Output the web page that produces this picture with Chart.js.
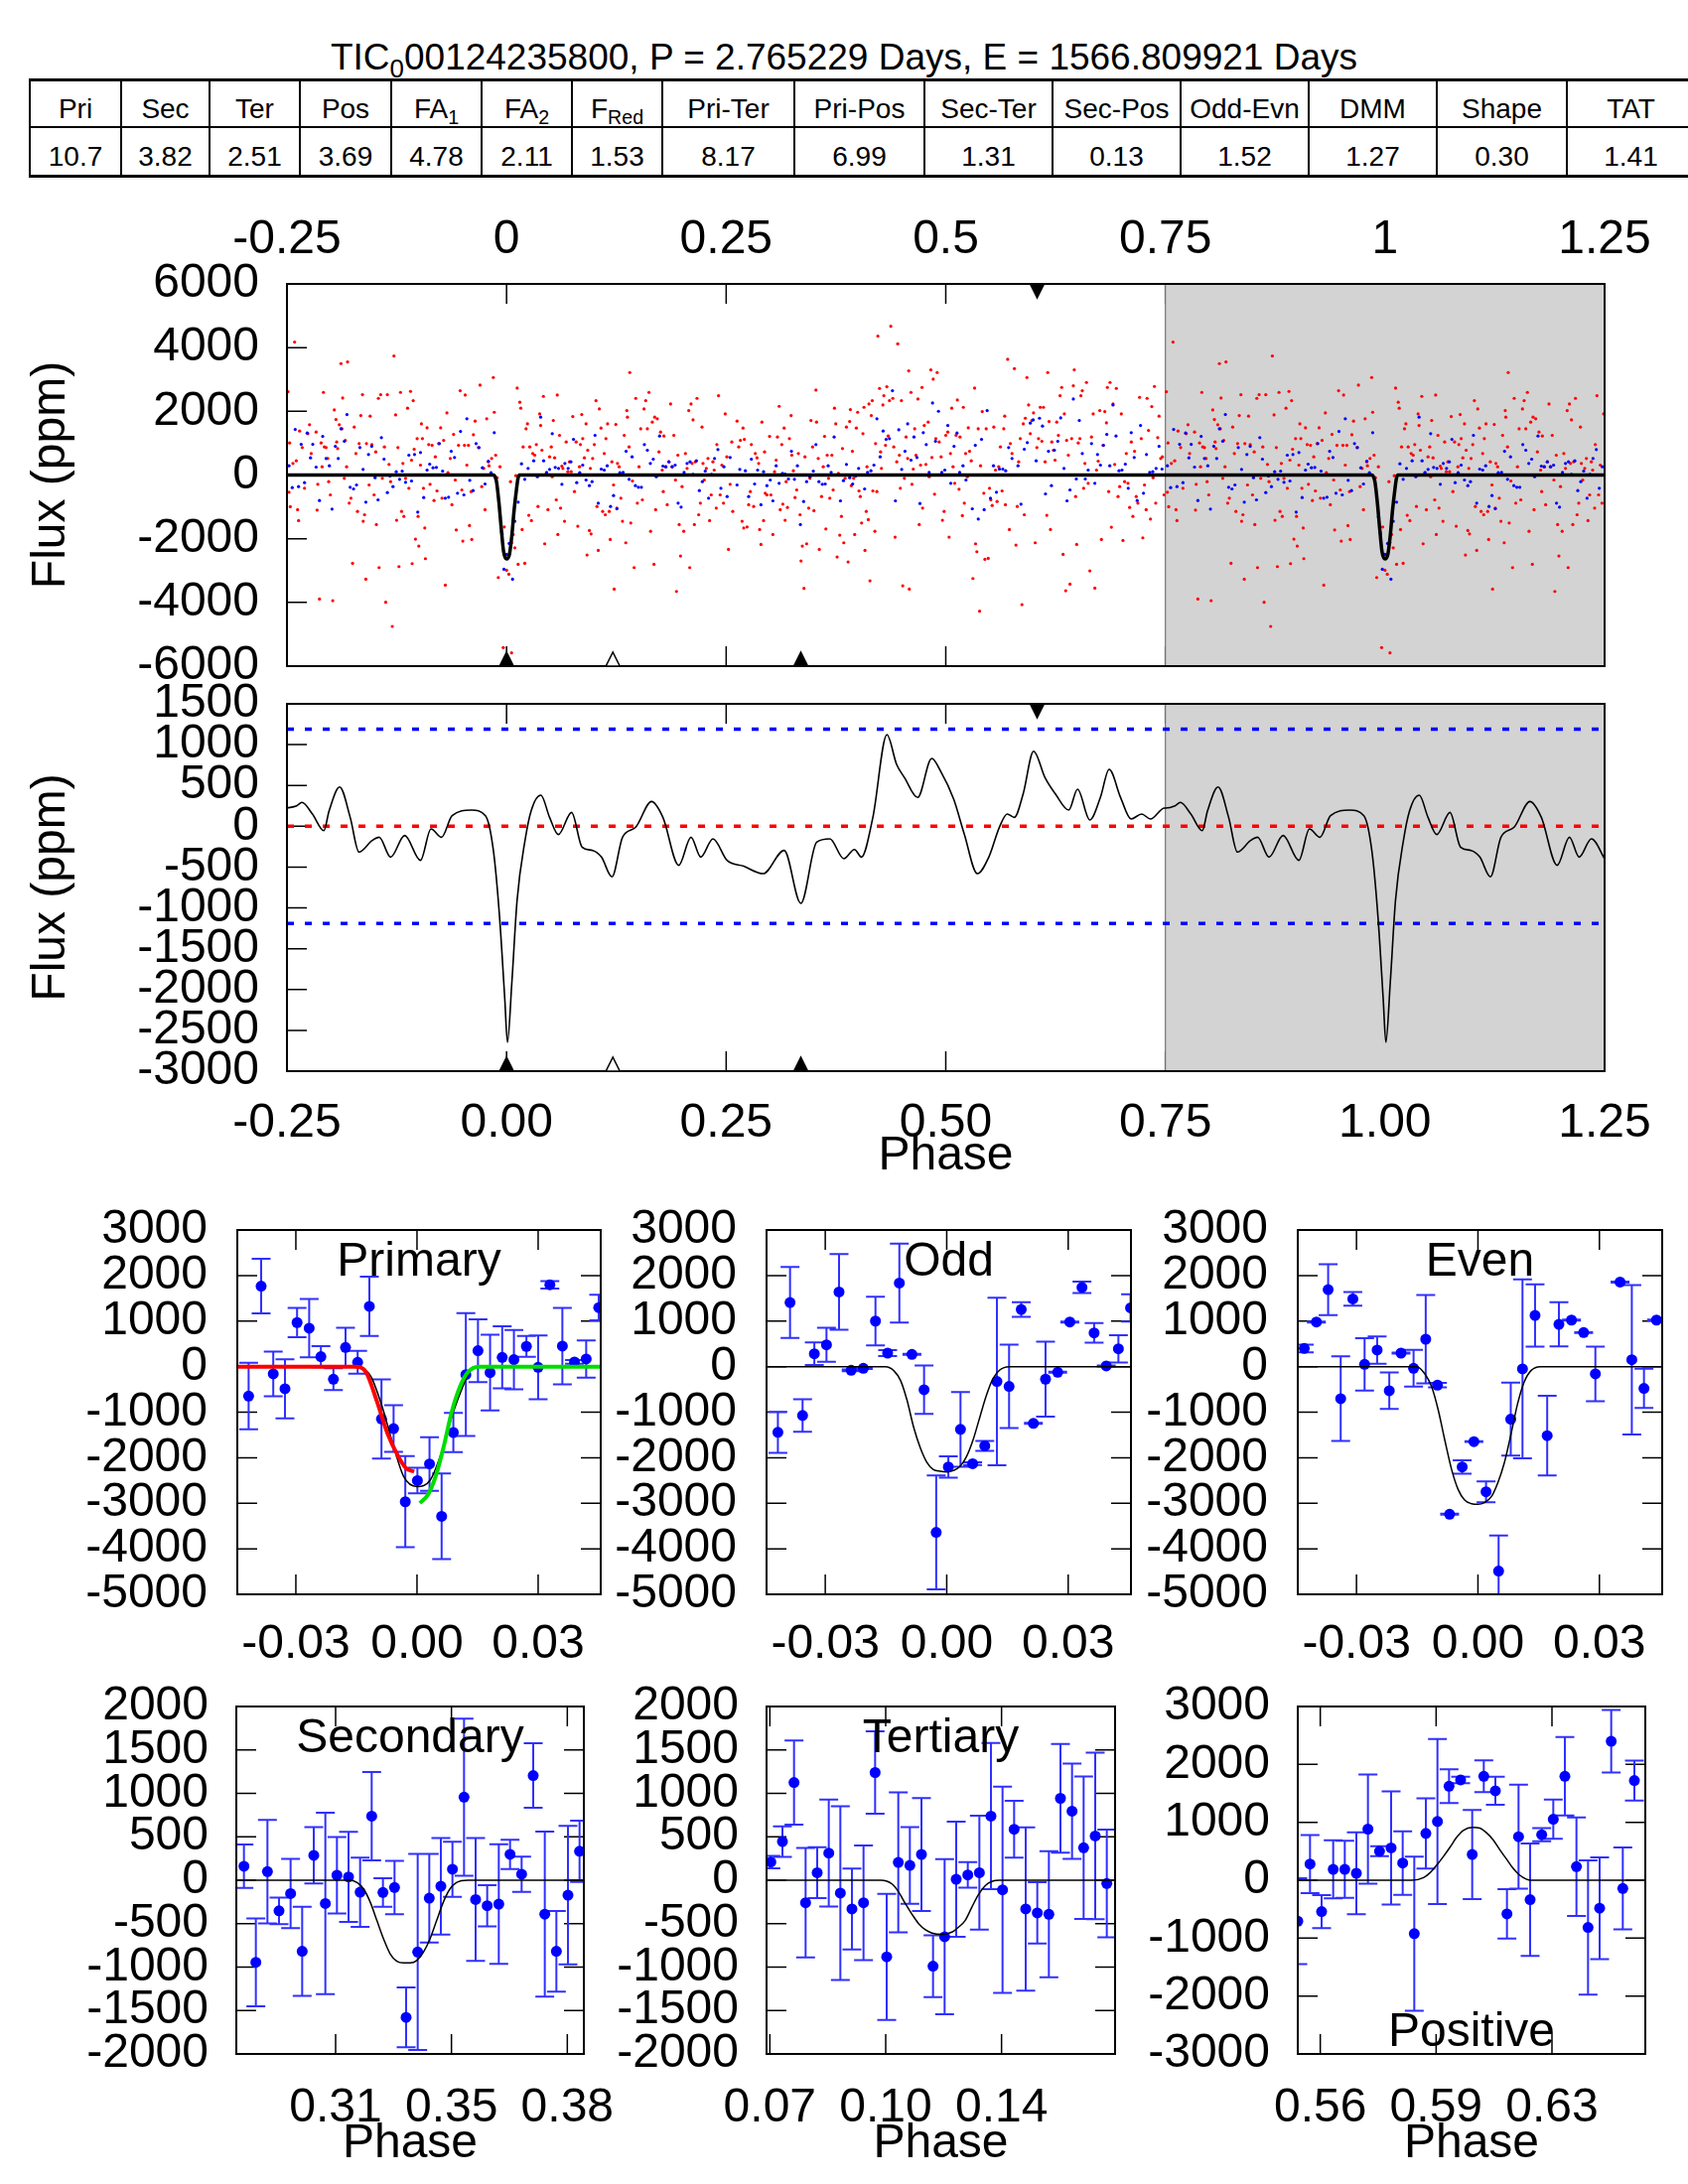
<!DOCTYPE html>
<html><head><meta charset="utf-8">
<script src="https://cdn.jsdelivr.net/npm/chart.js@4.4.1/dist/chart.umd.min.js"></script>
<style>
html,body{margin:0;padding:0;background:#fff;}
#page{position:relative;width:1700px;height:2200px;overflow:hidden;font-family:'Liberation Sans',Arial,Helvetica,sans-serif;color:#000;}
#page canvas{position:absolute;}
#title{position:absolute;left:0;top:36px;width:1700px;text-align:center;font-size:37px;line-height:44px;white-space:nowrap;}
#title sub,#stats sub{font-size:0.7em;vertical-align:-0.3em;line-height:0;}
#stats{position:absolute;left:29px;top:79px;width:1647px;border-collapse:collapse;table-layout:fixed;font-size:28px;text-align:center;}
#stats td{border-left:2px solid #000;border-right:2px solid #000;padding:0;line-height:32px;}
#stats tr.h td{height:35px;padding-top:10px;border-top:3px solid #000;border-bottom:2px solid #000;}
#stats tr.v td{height:37px;padding-top:10px;border-bottom:3px solid #000;}
</style></head>
<body><div id="page">
<div id="title"></div>
<table id="stats"><tbody><tr class="h"></tr><tr class="v"></tr></tbody></table>
</div>
<script>
// ---------------- DATA ----------------
const ticName = "TIC<sub>0</sub>00124235800";
const periodDays = "2.765229";
const epochDays = "1566.809921";
const tableHeaders = ["Pri","Sec","Ter","Pos","FA<sub>1</sub>","FA<sub>2</sub>","F<sub>Red</sub>","Pri-Ter","Pri-Pos","Sec-Ter","Sec-Pos","Odd-Evn","DMM","Shape","TAT"];
const tableValues = ["10.7","3.82","2.51","3.69","4.78","2.11","1.53","8.17","6.99","1.31","0.13","1.52","1.27","0.30","1.41"];

const phaseTicks = [-0.25,0,0.25,0.5,0.75,1,1.25];
const phaseLabelsTop = ["-0.25","0","0.25","0.5","0.75","1","1.25"];
const phaseLabelsBottom = ["-0.25","0.00","0.25","0.50","0.75","1.00","1.25"];

const markerPrimary = 0, markerTertiary = 0.121, markerSecondary = 0.335, markerPositive = 0.604;
const upperThreshold = 1190, lowerThreshold = -1190;

// unbinned (red) folded flux
const redPhase = [
-0.2413,-0.2489,-0.2470,-0.2432,-0.2477,-0.2462,-0.2368,-0.2379,-0.2394,-0.2356,
-0.2326,-0.2300,-0.2262,-0.2243,-0.2224,-0.2213,-0.2168,-0.2157,-0.2149,-0.2130,
-0.2111,-0.2100,-0.2085,-0.2074,-0.2055,-0.2036,-0.2025,-0.2006,-0.1979,-0.1961,
-0.1942,-0.1934,-0.1923,-0.1904,-0.1885,-0.1874,-0.1866,-0.1847,-0.1836,-0.1821,
-0.1810,-0.1791,-0.1772,-0.1753,-0.1734,-0.1715,-0.1697,-0.1678,-0.1659,-0.1640,
-0.1632,-0.1617,-0.1602,-0.1595,-0.1565,-0.1553,-0.1534,-0.1508,-0.1489,-0.1482,
-0.1459,-0.1451,-0.1433,-0.1414,-0.1391,-0.1376,-0.1357,-0.1338,-0.1320,-0.1301,
-0.1282,-0.1263,-0.1252,-0.1237,-0.1225,-0.1207,-0.1195,-0.1180,-0.1169,-0.1150,
-0.1127,-0.1112,-0.1093,-0.1082,-0.1075,-0.1063,-0.1052,-0.1037,-0.1018,-0.1007,
-0.0999,-0.0980,-0.0969,-0.0958,-0.0946,-0.0931,-0.0924,-0.0905,-0.0886,-0.0871,
-0.0848,-0.0826,-0.0811,-0.0792,-0.0773,-0.0750,-0.0735,-0.0716,-0.0697,-0.0679,
-0.0667,-0.0641,-0.0622,-0.0603,-0.0584,-0.0573,-0.0547,-0.0528,-0.0509,-0.0498,
-0.0479,-0.0471,-0.0452,-0.0434,-0.0422,-0.0403,-0.0396,-0.0377,-0.0358,-0.0339,
-0.0320,-0.0302,-0.0283,-0.0260,-0.0245,-0.0226,-0.0207,-0.0200,-0.0170,-0.0151,
-0.0140,-0.0124,-0.0109,-0.0094,-0.0075,-0.0049,-0.0026,0.0000,0.0026,0.0045,
0.0057,0.0075,0.0094,0.0106,0.0121,0.0132,0.0151,0.0162,0.0177,0.0189,
0.0207,0.0222,0.0238,0.0253,0.0264,0.0283,0.0298,0.0321,0.0339,0.0358,
0.0377,0.0388,0.0403,0.0419,0.0434,0.0452,0.0471,0.0490,0.0509,0.0520,
0.0532,0.0547,0.0566,0.0577,0.0584,0.0603,0.0615,0.0630,0.0641,0.0660,
0.0679,0.0698,0.0716,0.0735,0.0754,0.0773,0.0792,0.0811,0.0830,0.0841,
0.0856,0.0867,0.0886,0.0905,0.0916,0.0924,0.0943,0.0954,0.0962,0.0980,
0.0999,0.1018,0.1029,0.1044,0.1056,0.1075,0.1094,0.1112,0.1124,0.1131,
0.1150,0.1169,0.1180,0.1199,0.1218,0.1225,0.1244,0.1256,0.1263,0.1282,
0.1301,0.1320,0.1339,0.1357,0.1369,0.1376,0.1395,0.1403,0.1414,0.1433,
0.1452,0.1471,0.1489,0.1508,0.1527,0.1546,0.1565,0.1584,0.1603,0.1621,
0.1640,0.1659,0.1678,0.1686,0.1697,0.1716,0.1735,0.1753,0.1772,0.1784,
0.1791,0.1810,0.1829,0.1848,0.1867,0.1885,0.1904,0.1923,0.1934,0.1950,
0.1965,0.1980,0.1998,0.2017,0.2036,0.2055,0.2074,0.2085,0.2100,0.2112,
0.2123,0.2138,0.2149,0.2168,0.2187,0.2206,0.2225,0.2236,0.2251,0.2274,
0.2293,0.2311,0.2330,0.2349,0.2364,0.2387,0.2394,0.2413,0.2432,0.2451,
0.2470,0.2489,0.2508,0.2526,0.2545,0.2564,0.2575,-0.0038,0.0057,
0.2624,0.2643,0.2662,0.2692,0.2707,0.2681,0.2700,0.2738,0.2756,0.2775,
0.2787,0.2813,0.2832,0.2851,0.2870,0.2881,0.2896,0.2907,0.2926,0.2937,
0.2945,0.2964,0.2994,0.3009,0.3032,0.3051,0.3069,0.3084,0.3103,0.3115,
0.3133,0.3145,0.3160,0.3171,0.3183,0.3198,0.3220,0.3239,0.3247,0.3265,
0.3284,0.3303,0.3322,0.3341,0.3352,0.3367,0.3386,0.3397,0.3416,0.3439,
0.3454,0.3465,0.3484,0.3499,0.3522,0.3529,0.3548,0.3560,0.3586,0.3605,
0.3620,0.3635,0.3650,0.3665,0.3680,0.3703,0.3718,0.3733,0.3748,0.3763,
0.3778,0.3793,0.3812,0.3824,0.3839,0.3854,0.3869,0.3888,0.3906,0.3914,
0.3925,0.3937,0.3952,0.3963,0.3982,0.3997,0.4012,0.4027,0.4042,0.4057,
0.4069,0.4080,0.4095,0.4103,0.4118,0.4125,0.4137,0.4152,0.4163,0.4170,
0.4193,0.4201,0.4216,0.4227,0.4246,0.4258,0.4268,0.4284,0.4295,0.4314,
0.4329,0.4344,0.4359,0.4374,0.4397,0.4408,0.4423,0.4442,0.4453,0.4472,
0.4483,0.4495,0.4510,0.4529,0.4548,0.4566,0.4578,0.4585,0.4604,0.4615,
0.4630,0.4646,0.4661,0.4683,0.4698,0.4713,0.4729,0.4736,0.4755,0.4774,
0.4800,0.4811,0.4830,0.4842,0.4857,0.4872,0.4887,0.4902,0.4925,0.4947,
0.4962,0.4981,0.5000,0.5023,0.5038,0.5053,0.5068,0.5083,0.5102,0.5117,
0.5132,0.5151,0.5162,0.5189,0.5200,0.5211,0.5226,0.5245,0.5256,0.5271,
0.5290,0.5309,0.5328,0.5339,0.5354,0.5369,0.5385,0.5396,0.5415,0.5433,
0.5445,0.5460,0.5483,0.5498,0.5513,0.5528,0.5547,0.5566,0.5584,0.5603,
0.5622,0.5641,0.5660,0.5671,0.5679,0.5705,0.5724,0.5735,0.5754,0.5781,
0.5799,0.5814,0.5830,0.5848,0.5867,0.5882,0.5894,0.5905,0.5924,0.5943,
0.5962,0.5980,0.5999,0.6018,0.6037,0.6056,0.6075,0.6094,0.6112,0.6131,
0.6150,0.6161,0.6176,0.6192,0.6207,0.6226,0.6244,0.6263,0.6282,0.6301,
0.6320,0.6335,0.6350,0.6365,0.6376,0.6395,0.6414,0.6433,0.6452,0.6463,
0.6478,0.6490,0.6508,0.6527,0.6538,0.6554,0.6569,0.6584,0.6602,0.6621,
0.6640,0.6659,0.6678,0.6697,0.6716,0.6735,0.6753,0.6772,0.6791,0.6810,
0.6829,0.6840,0.6855,0.6870,0.6885,0.6904,0.6923,0.6942,0.6961,0.6980,
0.6998,0.7017,0.7036,0.7055,0.7074,0.7093,0.7112,0.7130,0.7149,0.7168,
0.7187,0.7206,0.7225,0.7243,0.7262,0.7281,0.7292,0.7308,0.7330,0.7345,
0.7360,0.7375,0.7390,0.7413,0.7428,0.7447,0.7466,0.7485];
const redFlux = [
4173,2616,1007,363,-540,-996,-1432,-1090,446,1381,
862,-415,1298,1578,675,0,1349,-1100,-291,-3893,
1007,260,2595,882,862,519,-208,-623,-3944,2045,
1744,1038,830,1578,3498,1453,2419,-104,1090,260,
3550,-882,-727,-2771,1505,675,-1142,986,1868,2522,
-1453,-1246,-3270,986,-311,1848,955,-623,727,-1557,
2408,-2906,2522,-104,882,-3996,2522,332,-208,-4754,
3737,1889,-1422,862,-2875,2595,-1142,363,-1298,-104,
2097,-415,2626,467,-2782,2336,810,-2014,1142,-1298,
-2232,311,1609,1142,-415,-1661,-2626,1484,955,-291,
934,-799,571,-498,986,1484,-727,1090,-3457,1951,
73,519,-934,1277,-156,-1723,934,2647,-467,-2076,
934,2512,311,934,-1588,-519,-2024,1266,1692,0,
862,2823,-363,208,-1090,1765,415,291,519,3062,
1972,623,-83,-3218,260,-1848,-1630,-2989,-3114,-208,
-2128,-1868,-2284,-21,2730,-2803,2284,2097,-1713,882,
-2771,1453,1609,-1266,882,-1432,675,623,955,-986,
1920,1557,779,2470,-2159,52,-1090,571,882,-52,
1713,540,-779,2512,-1868,1246,-1038,280,208,-1453,
1038,104,415,104,1837,-519,1038,-1609,260,955,
1900,1142,540,1609,-2512,779,-1744,208,-1848,519,
955,2336,-986,-2367,2076,1474,-1142,675,-1246,1142,
1609,-1142,-2024,415,-311,-3581,1588,-1038,363,260,
-727,-1453,1246,-2128,2024,1817,882,3218,-1505,-187,
-2906,2408,-882,260,1453,-779,2076,2336,1453,2595,
-1765,1661,-2803,1817,-1090,1765,727,1349,156,-519,
1225,260,-934,415,2232,260,1246,-156,-3654,623,
-1557,-2543,-363,-1765,675,208,2024,-2906,2232,363,
1733,-1557,415,2408,-1246,-882,1505,363,-156,208,
519,-1432,-623,415,156,-1038,955,2491,-623,311,
-882,1920,571,-2336,-291,1038,-1142,-5418,-5584,
1692,882,1090,1474,1121,-1453,-1661,-1630,-934,-519,
955,-986,675,540,363,-1713,-2180,1661,-1432,727,
-571,-623,1214,-623,-1868,104,467,1194,2159,-1090,
955,-913,1474,-1422,-208,-1017,1142,1868,623,135,
-706,-467,675,-1246,-2699,-2232,-3560,571,-2159,-1038,
-104,1713,882,-1121,2668,1661,519,-2336,-675,260,
1214,-1692,623,-104,-727,623,-467,2097,1609,-2574,
52,-1889,-1298,830,-2128,-104,1505,-2730,1682,2055,
-332,747,-104,-1868,1474,1972,-498,-675,-1505,1298,
2128,-2367,-1142,260,-1401,2232,-3322,1868,2336,-498,
-1765,986,-519,4360,2720,727,208,2201,2491,934,
2771,1225,2336,4671,2408,882,-1951,415,4121,623,
-415,2336,-3477,-104,1194,519,3270,-3581,2595,-291,
187,1453,623,2387,-1557,311,2751,-1038,1557,332,
1661,-52,3301,550,3010,-602,1142,3218,1038,571,
-1422,-1142,1246,1349,-1951,675,2097,260,-260,1246,
2356,-446,1194,-1277,2128,-882,675,-52,1484,747,
446,-3249,2730,-2159,-2408,1453,-4277,291,1993,-571,
-2647,1453,-2616,-415,-779,-955,1505,156,-830,260,
882,-498,1453,1848,-934,3633,-1713,986,675,3342,
-2201,-986,415,1142,-4069,1609,-1246,1785,3062,2201,
1298,1713,1951,-2128,862,1142,2128,1059,2128,415,
-1266,3218,1682,-1713,1038,779,467,1661,1246,2491,
2751,-2491,1920,-3633,1090,623,-3425,1142,2803,3301,
-675,-2180,1007,1142,2491,2647,-415,363,2906,-260,
-3010,1194,1920,-3550,156,436,2024,-2024,934,1993,
1640,2751,-519,2906,-1640,2232,332,2720,-675,-363,
1920,-2055,-208,675,-260,-1017,1038,-1298,747,-675,
-882,2439,1142,-1972,-311,-1090,2408,1401,-1381,2149,
-83,2782,-882,1173,1848,519,571,-623];

// binned (blue) folded flux
const bluePhase = [
-0.2477,-0.2440,-0.2406,-0.2368,-0.2338,-0.2300,-0.2270,-0.2232,-0.2206,-0.2168,
-0.2130,-0.2093,-0.2055,-0.2017,-0.1987,-0.1949,-0.1916,-0.1885,-0.1847,-0.1817,
-0.1780,-0.1742,-0.1708,-0.1670,-0.1633,-0.1602,-0.1572,-0.1535,-0.1497,-0.1463,
-0.1425,-0.1395,-0.1357,-0.1327,-0.1293,-0.1256,-0.1218,-0.1188,-0.1150,-0.1112,
-0.1082,-0.1048,-0.1011,-0.0980,-0.0943,-0.0905,-0.0875,-0.0837,-0.0799,-0.0765,
-0.0728,-0.0698,-0.0660,-0.0630,-0.0592,-0.0558,-0.0524,-0.0486,-0.0452,-0.0419,
-0.0381,-0.0347,-0.0313,-0.0275,-0.0245,-0.0207,-0.0177,-0.0140,-0.0075,-0.0057,
-0.0030,0.0000,0.0030,0.0068,0.0094,0.0132,0.0170,0.0207,0.0245,0.0309,
0.0351,0.0388,0.0422,0.0456,0.0490,0.0520,0.0554,0.0592,0.0630,0.0664,
0.0701,0.0732,0.0762,0.0799,0.0833,0.0867,0.0905,0.0943,0.0973,0.1007,
0.1044,0.1078,0.1112,0.1146,0.1184,0.1218,0.1256,0.1290,0.1327,0.1361,
0.1395,0.1429,0.1467,0.1501,0.1535,0.1569,0.1603,0.1637,0.1670,0.1704,
0.1742,0.1780,0.1814,0.1848,0.1885,0.1919,0.1953,0.1987,0.2021,0.2055,
0.2089,0.2123,0.2161,0.2195,0.2229,0.2262,0.2300,0.2334,0.2368,0.2406,
0.2440,0.2474,0.2511,0.2545,
0.2624,0.2655,0.2719,0.2756,0.2787,0.2824,0.2858,0.2896,0.2926,0.2964,
0.3002,0.3032,0.3069,0.3103,0.3141,0.3171,0.3209,0.3243,0.3277,0.3311,
0.3345,0.3382,0.3416,0.3454,0.3492,0.3522,0.3556,0.3594,0.3627,0.3661,
0.3695,0.3729,0.3767,0.3801,0.3835,0.3869,0.3906,0.3940,0.3974,0.4008,
0.4042,0.4076,0.4110,0.4148,0.4182,0.4216,0.4253,0.4287,0.4321,0.4359,
0.4393,0.4427,0.4465,0.4498,0.4536,0.4566,0.4604,0.4638,0.4672,0.4706,
0.4744,0.4778,0.4811,0.4849,0.4883,0.4917,0.4955,0.4989,0.5023,0.5057,
0.5094,0.5128,0.5158,0.5196,0.5230,0.5302,0.5336,0.5370,0.5407,0.5437,
0.5471,0.5509,0.5543,0.5577,0.5611,0.5649,0.5682,0.5716,0.5754,0.5822,
0.5856,0.5894,0.5928,0.5962,0.5995,0.6029,0.6067,0.6101,0.6135,0.6169,
0.6203,0.6237,0.6275,0.6308,0.6346,0.6380,0.6414,0.6452,0.6486,0.6520,
0.6554,0.6588,0.6621,0.6659,0.6697,0.6727,0.6761,0.6795,0.6833,0.6867,
0.6904,0.6938,0.6972,0.7006,0.7044,0.7077,0.7111,0.7145,0.7179,0.7217,
0.7251,0.7285,0.7322,0.7356,0.7394,0.7428,0.7462];
const blueFlux = [
291,-394,1432,-363,965,-239,1318,540,965,249,
-799,1214,519,291,-1069,903,519,1453,1059,1900,
-384,-436,-311,862,176,-851,644,903,-83,-779,
1173,498,-550,-31,-363,104,-135,125,-228,623,
-187,644,-1163,706,-706,156,343,228,239,986,
125,-727,-695,747,550,-571,1370,-623,1765,-166,
-488,986,862,228,-280,436,73,1329,-1318,-1785,
-2958,-2491,-2149,-3270,-1453,-851,353,-135,208,446,
-52,1817,446,83,176,1298,239,208,-291,363,
208,415,1121,-239,73,311,-156,-332,-208,1246,
-882,187,156,291,-986,-644,-1059,73,83,747,
-135,571,-332,-384,-384,955,779,363,498,-52,
1225,280,260,415,260,311,-882,-1007,83,363,
415,21,446,-488,-208,125,-727,21,519,799,
-415,260,-675,550,
-311,176,135,-675,498,-280,156,-934,104,-332,
-156,-810,291,-260,52,31,-125,747,-135,291,
-1557,-830,-208,-52,125,955,-208,-291,-280,291,
83,1194,0,-810,-176,332,-83,-280,-31,208,
0,-436,83,135,311,1765,571,1381,1121,1142,
2647,-810,1422,176,747,1609,467,1194,550,-893,
1329,955,83,2263,1059,2003,83,156,1557,-260,
903,1318,83,291,-156,-1059,934,-1381,1121,-1090,
2024,-727,291,-540,187,187,135,862,519,291,
-913,810,1017,1630,1733,446,1785,1536,-592,747,
-332,779,1059,1796,208,-810,-467,2387,-125,1713,
675,-125,156,986,-260,644,311,934,1277,291,
2201,1225,135,156,343,-415,1329,550,-799,1557,
-571,644,83,104,208,903,187];

// transit model in the top panel
const topModelPhase = [-0.25,-0.0146,-0.0130,-0.0113,-0.0086,-0.0060,-0.0033,0,0.0033,0.0060,0.0086,0.0113,0.0130,0.0146,
  0.9854,0.9870,0.9887,0.9914,0.9940,0.9967,1,1.0033,1.0060,1.0086,1.0113,1.0130,1.0146,1.25];
const topModelFlux = [0,0,-60,-233,-887,-1687,-2415,-2633,-2487,-1905,-1105,-451,-110,0,
  0,-60,-233,-887,-1687,-2415,-2633,-2487,-1905,-1105,-451,-110,0,0];

// smoothed residual (middle panel)
const smoothPhase = [-0.250,-0.239,-0.233,-0.221,-0.208,-0.202,-0.190,-0.178,-0.168,-0.153,
 -0.145,-0.132,-0.116,-0.098,-0.086,-0.074,-0.062,-0.040,-0.024,-0.015,
 -0.008,-0.002,0.001,0.006,0.012,0.021,0.028,0.039,0.049,0.059,
 0.074,0.086,0.098,0.108,0.120,0.132,0.147,0.165,0.178,0.196,
 0.210,0.221,0.235,0.251,0.270,0.292,0.316,0.335,0.353,0.368,
 0.384,0.396,0.404,0.417,0.433,0.444,0.453,0.468,0.484,0.494,
 0.509,0.521,0.536,0.549,0.561,0.570,0.578,0.588,0.600,0.613,
 0.625,0.640,0.650,0.664,0.676,0.686,0.699,0.711,0.723,0.733,0.749];
const smoothFlux = [223,251,292,150,-53,190,482,109,-316,-174,
 -134,-377,-113,-417,-32,-134,130,199,130,-296,
 -1107,-2120,-2647,-1918,-904,-174,190,381,109,-101,
 170,-255,-296,-377,-620,-134,-12,304,109,-478,
 -134,-377,-154,-417,-490,-580,-296,-944,-195,-154,
 -397,-284,-377,109,1123,758,596,353,831,677,
 332,-93,-580,-377,-12,150,109,393,920,596,
 393,199,454,77,353,697,353,89,150,89,223];

// Primary
const primPhase = [-0.0417,-0.0386,-0.0356,-0.0327,-0.0297,-0.0267,-0.0238,-0.0207,-0.0177,-0.0147,-0.0118,-0.0088,-0.0058,-0.0029,0.0001,0.0031,0.0061,0.0090,0.0121,0.0151,0.0181,0.0211,0.0240,0.0271,0.0300,0.0329,0.0360,0.0390,0.0419,0.0450];
const primFlux = [-647,1767,-160,-487,967,844,218,-276,422,95,1324,-1149,-1360,-2967,-2502,-2138,-3287,-1447,-175,349,-131,204,153,444,-15,1796,451,102,167,1295];
const primErr = [730,600,490,650,320,640,230,240,430,250,650,870,510,1000,280,590,940,430,1350,690,830,680,650,230,700,80,840,40,410,280];
const primModelPhase = [-0.0445,-0.0146,-0.0130,-0.0113,-0.0086,-0.0060,-0.0033,0,0.0033,0.0060,0.0086,0.0113,0.0130,0.0146,0.0455];
const primModelFlux = [0,0,-60,-233,-887,-1687,-2415,-2633,-2487,-1905,-1105,-451,-110,0,0];
const ingressPhase = [-0.0445,-0.0153,-0.0126,-0.0100,-0.0073,-0.0046,-0.0027,-0.0007];
const ingressFlux = [0,0,-124,-742,-1469,-1978,-2233,-2305];
const egressPhase = [0.0007,0.0027,0.0046,0.0066,0.0086,0.0106,0.0126,0.0153,0.0455];
const egressFlux = [-2996,-2815,-2415,-1760,-996,-451,-124,0,0];

// Odd
const oddPhase = [-0.0417,-0.0387,-0.0356,-0.0327,-0.0297,-0.0266,-0.0236,-0.0206,-0.0176,-0.0146,-0.0117,-0.0086,-0.0056,-0.0026,0.0004,0.0034,0.0064,0.0094,0.0124,0.0154,0.0184,0.0214,0.0244,0.0274,0.0304,0.0334,0.0364,0.0394,0.0424,0.0454];
const oddFlux = [-1443,1407,-1073,283,479,1639,-80,-36,1000,297,1835,268,-508,-3640,-2204,-1378,-2132,-1740,-326,-435,1254,-1247,-275,-123,979,1740,740,15,392,1291];
const oddErr = [450,780,355,250,375,830,20,15,535,65,865,10,530,1250,235,820,30,110,1840,915,160,10,825,10,10,125,215,10,300,300];
const oddModelPhase = [-0.0445,-0.0151,-0.0131,-0.0114,-0.0098,-0.0082,-0.0065,-0.0049,-0.0033,-0.0016,0,0.0016,0.0033,0.0049,0.0065,0.0082,0.0098,0.0114,0.0131,0.0154,0.0455];
const oddModelFlux = [0,0,-87,-305,-740,-1320,-1791,-2103,-2262,-2299,-2313,-2284,-2190,-1972,-1610,-1102,-631,-268,-73,0,0];

// Even
const evenPhase = [-0.0429,-0.0399,-0.0370,-0.0339,-0.0309,-0.0280,-0.0249,-0.0219,-0.0190,-0.0159,-0.0129,-0.0100,-0.0070,-0.0039,-0.0010,0.0020,0.0051,0.0081,0.0110,0.0141,0.0171,0.0200,0.0231,0.0261,0.0290,0.0351,0.0380,0.0410,0.0441];
const evenFlux = [399,979,1690,-703,1487,51,363,-529,297,-36,602,-406,-3241,-2204,-1646,-2748,-4489,-1153,-51,1124,-1516,928,1022,747,-160,1856,152,-479,1022];
const evenErr = [85,10,560,930,150,575,300,400,10,405,970,50,10,145,10,230,780,800,1965,685,875,485,10,10,600,10,1640,430,10];
const evenModelPhase = [-0.0445,-0.0151,-0.0131,-0.0114,-0.0098,-0.0082,-0.0065,-0.0049,-0.0033,-0.0016,0,0.0016,0.0033,0.0049,0.0065,0.0082,0.0098,0.0114,0.0131,0.0154,0.0455];
const evenModelFlux = [0,0,-160,-450,-957,-1610,-2262,-2698,-2930,-3009,-3024,-2988,-2857,-2552,-2117,-1465,-812,-341,-87,0,0];

// Secondary
const secPhase = [0.2848,0.2884,0.2919,0.2954,0.2989,0.3024,0.3059,0.3094,0.3129,0.3164,0.3199,0.3234,0.3268,0.3303,0.3338,0.3373,0.3408,0.3443,0.3478,0.3513,0.3548,0.3583,0.3618,0.3652,0.3687,0.3722,0.3757,0.3792,0.3827,0.3862];
const secFlux = [161,-945,99,-352,-153,-818,287,-268,57,38,-138,738,-141,-84,-1579,-826,-206,-69,126,956,-222,-294,-275,298,69,1205,-390,-818,-172,333];
const secErr = [250,505,595,153,398,512,325,1044,440,518,398,509,164,306,344,1128,510,556,317,904,707,237,688,168,203,371,950,465,797,352];
const secModelPhase = [0.2825,0.3165,0.319,0.321,0.323,0.325,0.327,0.329,0.331,0.333,0.335,0.337,0.339,0.341,0.343,0.345,0.347,0.349,0.3525,0.3875];
const secModelFlux = [0,0,-27,-103,-256,-467,-677,-849,-933,-952,-952,-925,-830,-677,-467,-256,-103,-27,0,0];
const secTicks = [0.3125,0.3475,0.3825];
const secTickLabels = ["0.31","0.35","0.38"];

// Tertiary
const terPhase = [0.0703,0.0738,0.0773,0.0808,0.0843,0.0878,0.0913,0.0948,0.0983,0.1018,0.1053,0.1088,0.1123,0.1158,0.1193,0.1228,0.1263,0.1298,0.1333,0.1368,0.1403,0.1438,0.1473,0.1508,0.1543,0.1578,0.1613,0.1648,0.1683,0.1718];
const terFlux = [209,445,1125,-259,87,312,-148,-331,-259,1240,-882,205,171,297,-989,-650,11,61,87,738,-110,586,-331,-376,-392,943,795,373,510,-38];
const terErr = [72,175,485,630,293,616,1000,466,660,475,726,806,441,650,356,892,662,148,656,842,1188,327,939,352,726,626,548,820,958,620];
const terModelPhase = [0.069,0.1035,0.107,0.109,0.111,0.113,0.115,0.117,0.119,0.1218,0.125,0.127,0.129,0.131,0.133,0.135,0.137,0.1395,0.1743];
const terModelFlux = [0,0,-46,-141,-274,-395,-502,-570,-608,-624,-597,-540,-464,-312,-167,-65,-15,0,0];
const terTicks = [0.07,0.105,0.14];
const terTickLabels = ["0.07","0.10","0.14"];

// Positive
const posPhase = [0.5532,0.5569,0.5604,0.5639,0.5674,0.5709,0.5744,0.5779,0.5814,0.5849,0.5884,0.5919,0.5954,0.5989,0.6024,0.6059,0.6094,0.6129,0.6164,0.6199,0.6234,0.6269,0.6304,0.6339,0.6374,0.6409,0.6444,0.6479,0.6514,0.6549];
const posFlux = [-707,279,-541,188,188,120,883,501,558,296,-923,809,1014,1624,1732,444,1795,1544,-581,752,-336,786,1054,1795,234,-815,-484,2399,-142,1721];
const posErr = [740,500,285,500,493,707,943,85,977,550,1330,607,1425,293,57,769,273,242,427,896,969,114,339,678,849,1160,877,539,707,345];
const posModelPhase = [0.5532,0.5877,0.5912,0.5932,0.5952,0.5972,0.5992,0.6012,0.6032,0.6060,0.6082,0.6102,0.6122,0.6142,0.6162,0.6182,0.6202,0.6222,0.6237,0.6582];
const posModelFlux = [0,0,46,131,262,410,570,740,860,912,900,820,700,530,370,210,90,20,0,0];
const posTicks = [0.56,0.595,0.63];
const posTickLabels = ["0.56","0.59","0.63"];

const eventTicks = [-0.03,0,0.03];
const eventTickLabels = ["-0.03","0.00","0.03"];

// ---------------- LAYOUT / RENDER ----------------
const FONT = "'Liberation Sans', Arial, Helvetica, sans-serif";
Chart.defaults.font.family = FONT;
Chart.defaults.font.size = 48;
Chart.defaults.color = '#000';
const page = document.getElementById('page');

document.getElementById('title').innerHTML = ticName + ", P = " + periodDays + " Days, E = " + epochDays + " Days";
const colWidths = [90,87,89,90,89,89,89,131,129,127,127,127,127,129,127];
const rows = document.querySelectorAll('#stats tr');
tableHeaders.forEach((h,i)=>{ const td=document.createElement('td'); td.style.width=colWidths[i]+'px'; td.innerHTML=h; rows[0].appendChild(td); });
tableValues.forEach(v=>{ const td=document.createElement('td'); td.textContent=v; rows[1].appendChild(td); });

const pts = (ph, fl) => ph.map((p,i)=>({x:p, y:fl[i]}));
const fold = (ph, fl, lim) => { const out = pts(ph, fl); ph.forEach((p,i)=>{ if (p < lim) out.push({x:p+1, y:fl[i]}); }); return out; };

function makeDeco(cfg){
  return {
    id:'deco',
    beforeDatasetsDraw(chart){
      const {ctx, chartArea:a, scales:{x,y}} = chart;
      ctx.save();
      ctx.strokeStyle = '#000'; ctx.lineWidth = 1.5;
      const tl = 20;
      ctx.beginPath();
      (cfg.xTicks||[]).forEach(v=>{ const px = x.getPixelForValue(v);
        ctx.moveTo(px,a.top); ctx.lineTo(px,a.top+tl); ctx.moveTo(px,a.bottom); ctx.lineTo(px,a.bottom-tl); });
      y.ticks.forEach(t=>{ const py = y.getPixelForValue(t.value);
        ctx.moveTo(a.left,py); ctx.lineTo(a.left+tl,py); ctx.moveTo(a.right,py); ctx.lineTo(a.right-tl,py); });
      ctx.stroke();
      if (cfg.shadeFrom != null){
        const sx = x.getPixelForValue(cfg.shadeFrom);
        ctx.fillStyle = '#d3d3d3'; ctx.fillRect(sx, a.top, a.right-sx, a.bottom-a.top);
        ctx.strokeStyle = '#777'; ctx.lineWidth = 1.2;
        ctx.beginPath(); ctx.moveTo(sx,a.top); ctx.lineTo(sx,a.bottom); ctx.stroke();
      }
      if (cfg.err){
        ctx.beginPath(); ctx.rect(a.left, a.top, a.right-a.left, a.bottom-a.top); ctx.clip();
        ctx.strokeStyle = '#3030ff'; ctx.lineWidth = 2;
        ctx.beginPath();
        const {px, py, pe} = cfg.err;
        px.forEach((p,i)=>{
          const X = x.getPixelForValue(p), Y1 = y.getPixelForValue(py[i]-pe[i]), Y2 = y.getPixelForValue(py[i]+pe[i]);
          ctx.moveTo(X,Y1); ctx.lineTo(X,Y2);
          ctx.moveTo(X-9.5,Y1); ctx.lineTo(X+9.5,Y1);
          ctx.moveTo(X-9.5,Y2); ctx.lineTo(X+9.5,Y2);
        });
        ctx.stroke();
      }
      ctx.restore();
    },
    afterDatasetsDraw(chart){
      const {ctx, chartArea:a, scales:{x}} = chart;
      ctx.save();
      ctx.strokeStyle = '#000'; ctx.lineWidth = 2;
      ctx.strokeRect(a.left, a.top, a.right-a.left, a.bottom-a.top);
      (cfg.tri||[]).forEach(t=>{
        const px = x.getPixelForValue(t.v);
        ctx.beginPath();
        if (t.side === 'bottom'){ ctx.moveTo(px-7,a.bottom); ctx.lineTo(px+7,a.bottom); ctx.lineTo(px,a.bottom-14); }
        else { ctx.moveTo(px-7,a.top); ctx.lineTo(px+7,a.top); ctx.lineTo(px,a.top+14); }
        ctx.closePath();
        ctx.fillStyle = t.fill ? '#000' : '#fff'; ctx.fill();
        ctx.lineWidth = 1.5; ctx.stroke();
      });
      if (cfg.label){
        ctx.font = '48px ' + FONT; ctx.fillStyle = '#000'; ctx.textAlign = 'center'; ctx.textBaseline = 'alphabetic';
        const cx = (a.left + a.right)/2;
        ctx.fillText(cfg.label.text, cx, cfg.label.pos === 'bottom' ? a.bottom - 8 : a.top + 46);
      }
      ctx.restore();
    }
  };
}

function panel(p){
  const left = p.l - p.LM, top = p.t - p.TM;
  const w = p.r + p.RP - left, h = p.b + p.BM - top;
  const c = document.createElement('canvas');
  c.width = w; c.height = h;
  c.style.left = left+'px'; c.style.top = top+'px'; c.style.width = w+'px'; c.style.height = h+'px';
  page.appendChild(c);
  const xTop = p.xPos === 'top';
  new Chart(c, {
    type:'scatter',
    data:{datasets:p.datasets},
    options:{
      responsive:false, maintainAspectRatio:false, animation:false, devicePixelRatio:1, events:[],
      layout:{padding: xTop ? {left:0,right:p.RP,top:0,bottom:p.BM} : {left:0,right:p.RP,top:p.TM,bottom:0}},
      plugins:{legend:{display:false}, tooltip:{enabled:false}, title:{display:false}},
      scales:{
        x:{type:'linear', position: xTop ? 'top' : 'bottom', min:p.xmin, max:p.xmax,
           grid:{display:false, drawTicks:false}, border:{display:false},
           afterBuildTicks: s => { s.ticks = p.xTicks.map(v=>({value:v})); },
           afterFit: s => { s.height = xTop ? p.TM : p.BM; },
           ticks:{autoSkip:false, maxRotation:0, minRotation:0, padding:p.xPad, font:{size:48}, color:'#000',
                  callback:(v,i) => p.xLabels[i]},
           title: p.xTitle ? {display:true, text:p.xTitle, font:{size:48}, color:'#000', padding:{top:0, bottom:p.xTitlePad}} : {display:false}
        },
        y:{type:'linear', position:'left', min:p.ymin, max:p.ymax,
           grid:{display:false, drawTicks:false}, border:{display:false},
           afterFit: s => { s.width = p.LM; },
           ticks:{stepSize:p.ystep, autoSkip:false, padding:p.yPad, font:{size:48}, color:'#000', callback:v => String(v)},
           title: p.yTitle ? {display:true, text:p.yTitle, font:{size:48}, color:'#000', padding:{top:23, bottom:0}} : {display:false}
        }
      }
    },
    plugins:[makeDeco(p.deco)]
  });
}

const triMarks = [
  {v:markerPrimary, side:'bottom', fill:true},
  {v:markerTertiary, side:'bottom', fill:false},
  {v:markerSecondary, side:'bottom', fill:true},
  {v:markerPositive, side:'top', fill:true}
];
const lineDs = (data, color, width, order, extra) => Object.assign({data, showLine:true, borderColor:color, borderWidth:width, pointRadius:0, order, clip:0, cubicInterpolationMode:'monotone'}, extra||{});
const dotDs = (data, color, r, order) => ({data, showLine:false, pointRadius:r, backgroundColor:color, borderWidth:0, order, clip:0});

// Top panel: folded light curve
panel({l:289, t:286, r:1616, b:671, LM:289, TM:110, BM:70, RP:80, xPos:'top',
  xmin:-0.25, xmax:1.25, xTicks:phaseTicks, xLabels:phaseLabelsTop, xPad:15,
  ymin:-6000, ymax:6000, ystep:2000, yPad:28, yTitle:'Flux (ppm)',
  datasets:[
    lineDs(pts(topModelPhase, topModelFlux), '#000', 3.5, 0),
    dotDs(fold(bluePhase, blueFlux, 0.25), '#0000ff', 1.6, 1),
    dotDs(fold(redPhase, redFlux, 0.25), '#ff0000', 1.6, 2)
  ],
  deco:{xTicks:phaseTicks, shadeFrom:0.75, tri:triMarks}
});

// Middle panel: smoothed residuals
panel({l:289, t:709, r:1616, b:1079, LM:289, TM:70, BM:120, RP:80, xPos:'bottom',
  xmin:-0.25, xmax:1.25, xTicks:phaseTicks, xLabels:phaseLabelsBottom, xPad:24, xTitle:'Phase', xTitlePad:5,
  ymin:-3000, ymax:1500, ystep:500, yPad:28, yTitle:'Flux (ppm)',
  datasets:[
    lineDs(fold(smoothPhase, smoothFlux, 0.26), '#000', 1.6, 0),
    lineDs([{x:-0.25,y:upperThreshold},{x:1.25,y:upperThreshold}], '#0000ff', 3.5, 1, {borderDash:[7,11], cubicInterpolationMode:'default'}),
    lineDs([{x:-0.25,y:lowerThreshold},{x:1.25,y:lowerThreshold}], '#0000ff', 3.5, 1, {borderDash:[7,11], cubicInterpolationMode:'default'}),
    lineDs([{x:-0.25,y:0},{x:1.25,y:0}], '#ff0000', 3.5, 1, {borderDash:[7,11], cubicInterpolationMode:'default'})
  ],
  deco:{xTicks:phaseTicks, shadeFrom:0.75, tri:triMarks}
});

// Row 1: Primary / Odd / Even
const row1 = {t:1239, b:1606, LM:239, TM:70, BM:100, RP:70, xPos:'bottom',
  xmin:-0.0445, xmax:0.0455, xTicks:eventTicks, xLabels:eventTickLabels, xPad:22,
  ymin:-5000, ymax:3000, ystep:1000, yPad:30};
panel(Object.assign({}, row1, {l:239, r:605,
  datasets:[
    lineDs(pts(egressPhase, egressFlux), '#00dd00', 4, 0),
    lineDs(pts(ingressPhase, ingressFlux), '#ff0000', 4, 0),
    lineDs(pts(primModelPhase, primModelFlux), '#000', 1.5, 1),
    dotDs(pts(primPhase, primFlux), '#0000ff', 5.5, 2)
  ],
  deco:{xTicks:eventTicks, err:{px:primPhase, py:primFlux, pe:primErr}, label:{text:'Primary', pos:'top'}}
}));
panel(Object.assign({}, row1, {l:772, r:1139,
  datasets:[
    lineDs(pts(oddModelPhase, oddModelFlux), '#000', 1.5, 0),
    dotDs(pts(oddPhase, oddFlux), '#0000ff', 5.5, 1)
  ],
  deco:{xTicks:eventTicks, err:{px:oddPhase, py:oddFlux, pe:oddErr}, label:{text:'Odd', pos:'top'}}
}));
panel(Object.assign({}, row1, {l:1307, r:1674,
  datasets:[
    lineDs(pts(evenModelPhase, evenModelFlux), '#000', 1.5, 0),
    dotDs(pts(evenPhase, evenFlux), '#0000ff', 5.5, 1)
  ],
  deco:{xTicks:eventTicks, err:{px:evenPhase, py:evenFlux, pe:evenErr}, label:{text:'Even', pos:'top'}}
}));

// Row 2: Secondary / Tertiary / Positive
const row2 = {t:1719, b:2069, LM:238, TM:70, BM:125, RP:70, xPos:'bottom', xPad:26, xTitle:'Phase', xTitlePad:5, yPad:28};
panel(Object.assign({}, row2, {l:238, r:588, xmin:0.2825, xmax:0.3875, xTicks:secTicks, xLabels:secTickLabels,
  ymin:-2000, ymax:2000, ystep:500,
  datasets:[
    lineDs(pts(secModelPhase, secModelFlux), '#000', 1.5, 0),
    dotDs(pts(secPhase, secFlux), '#0000ff', 5.5, 1)
  ],
  deco:{xTicks:secTicks, err:{px:secPhase, py:secFlux, pe:secErr}, label:{text:'Secondary', pos:'top'}}
}));
panel(Object.assign({}, row2, {l:772, r:1123, xmin:0.069, xmax:0.1743, xTicks:terTicks, xLabels:terTickLabels,
  ymin:-2000, ymax:2000, ystep:500,
  datasets:[
    lineDs(pts(terModelPhase, terModelFlux), '#000', 1.5, 0),
    dotDs(pts(terPhase, terFlux), '#0000ff', 5.5, 1)
  ],
  deco:{xTicks:terTicks, err:{px:terPhase, py:terFlux, pe:terErr}, label:{text:'Tertiary', pos:'top'}}
}));
panel(Object.assign({}, row2, {l:1307, r:1657, xmin:0.5532, xmax:0.6582, xTicks:posTicks, xLabels:posTickLabels,
  ymin:-3000, ymax:3000, ystep:1000,
  datasets:[
    lineDs(pts(posModelPhase, posModelFlux), '#000', 1.5, 0),
    dotDs(pts(posPhase, posFlux), '#0000ff', 5.5, 1)
  ],
  deco:{xTicks:posTicks, err:{px:posPhase, py:posFlux, pe:posErr}, label:{text:'Positive', pos:'bottom'}}
}));
</script>
</body></html>
